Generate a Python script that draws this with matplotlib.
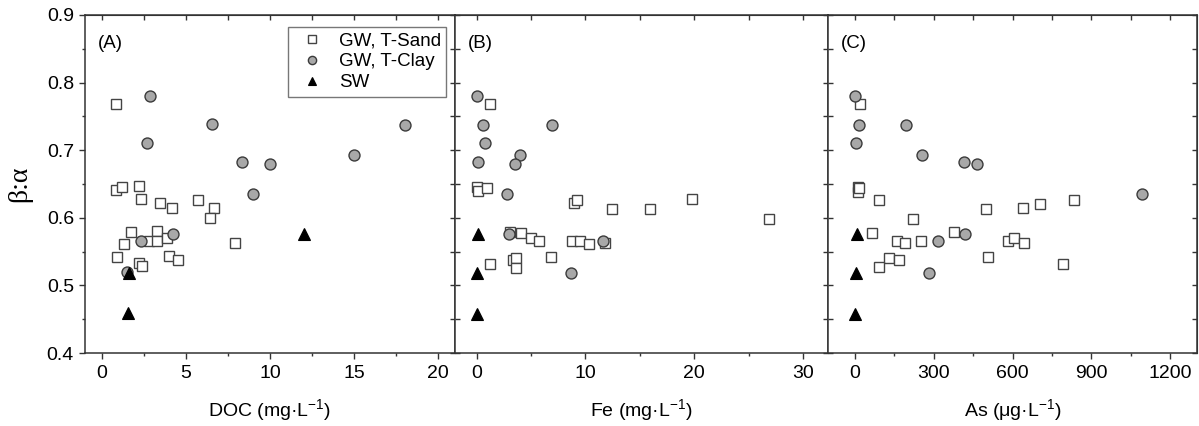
import matplotlib
matplotlib.use("Agg")
import matplotlib.pyplot as plt
from matplotlib.ticker import MultipleLocator, FormatStrFormatter

plt.rcParams["font.family"] = ["Liberation Sans", "DejaVu Sans"]
plt.rcParams["mathtext.fontset"] = "custom"
plt.rcParams["mathtext.rm"] = "Liberation Sans"
plt.rcParams["mathtext.it"] = "Liberation Sans:italic"

# ── Data ──────────────────────────────────────────────────────────────────────
# Panel A: DOC (mg/L)
sand_doc = [0.87, 0.84, 1.2, 2.23, 2.31, 3.43, 4.18, 5.7, 6.69, 6.41, 1.71,
            1.31, 0.91, 2.19, 2.39, 2.79, 3.31, 3.31, 3.87, 3.98, 4.52, 7.89]
sand_doc_ratio = [0.768, 0.641, 0.645, 0.647, 0.628, 0.622, 0.614, 0.627, 0.614,
                  0.599, 0.579, 0.561, 0.542, 0.533, 0.528, 0.566, 0.580, 0.566,
                  0.570, 0.543, 0.538, 0.562]
clay_doc = [2.89, 2.71, 6.53, 8.31, 10.0, 9.0, 15.0, 18.0, 2.31, 4.22, 1.47]
clay_doc_ratio = [0.780, 0.711, 0.739, 0.682, 0.679, 0.635, 0.693, 0.737,
                  0.565, 0.576, 0.520]
sw_doc = [1.63, 1.53, 12.03]
sw_doc_ratio = [0.518, 0.459, 0.576]

# Panel B: Fe (mg/L)
sand_fe = [1.2, 0.04, 0.1, 0.9, 8.9, 9.2, 12.4, 15.9, 19.8, 26.9, 3.02, 4.1,
           4.96, 5.7, 8.77, 9.48, 10.34, 11.8, 1.2, 3.3, 3.64, 3.64, 6.8]
sand_fe_ratio = [0.768, 0.646, 0.639, 0.644, 0.622, 0.627, 0.613, 0.613, 0.628,
                 0.598, 0.579, 0.578, 0.570, 0.565, 0.565, 0.566, 0.561, 0.562,
                 0.532, 0.537, 0.540, 0.526, 0.542]
clay_fe = [0.03, 0.59, 0.8, 0.16, 6.9, 4.0, 3.51, 2.77, 2.93, 8.68, 11.58]
clay_fe_ratio = [0.780, 0.738, 0.711, 0.682, 0.737, 0.693, 0.679, 0.635,
                 0.576, 0.519, 0.565]
sw_fe = [0.16, 0.04, 0.04]
sw_fe_ratio = [0.576, 0.518, 0.458]

# Panel C: As (ug/L)
sand_as = [19, 13, 10, 15, 91, 500, 641, 705, 835, 220, 63, 159, 190, 251, 378,
           582, 604, 643, 505, 790, 131, 168, 91]
sand_as_ratio = [0.768, 0.646, 0.638, 0.644, 0.627, 0.613, 0.614, 0.621, 0.626,
                 0.598, 0.578, 0.566, 0.562, 0.565, 0.579, 0.565, 0.570, 0.562,
                 0.542, 0.532, 0.540, 0.537, 0.527]
clay_as = [1, 16, 5, 194, 255, 414, 463, 1093, 317, 418, 282]
clay_as_ratio = [0.780, 0.738, 0.711, 0.737, 0.693, 0.682, 0.679, 0.635,
                 0.565, 0.576, 0.519]
sw_as = [8, 3, 1]
sw_as_ratio = [0.576, 0.518, 0.458]

panel_labels = ["(A)", "(B)", "(C)"]
x_labels = ["DOC (mg·L$^{-1}$)", "Fe (mg·L$^{-1}$)", "As (μg·L$^{-1}$)"]
legend_labels = ["GW, T-Sand", "GW, T-Clay", "SW"]

panels = [
    (sand_doc, sand_doc_ratio, clay_doc, clay_doc_ratio, sw_doc, sw_doc_ratio),
    (sand_fe, sand_fe_ratio, clay_fe, clay_fe_ratio, sw_fe, sw_fe_ratio),
    (sand_as, sand_as_ratio, clay_as, clay_as_ratio, sw_as, sw_as_ratio),
]
xlims = [(-1, 21), (-2, 32.3), (-103, 1302)]
x_major = [5, 10, 300]
x_minor = [2.5, 5, 150]

# ── Figure ────────────────────────────────────────────────────────────────────
W, H = 1199, 426
fig = plt.figure(figsize=(W / 100, H / 100), dpi=100)
edges = [85, 455, 828, 1197]
bottom, top = 353, 15

spine_col = "#333333"
axes = []
for i in range(3):
    ax = fig.add_axes([edges[i] / W, (H - bottom) / H,
                       (edges[i + 1] - edges[i]) / W, (bottom - top) / H])
    axes.append(ax)
    sx, sy, cx, cy, wx, wy = panels[i]
    ax.plot(sx, sy, ls="none", marker="s", ms=7.0, mfc="white", mec="#444444",
            mew=1.0, label=legend_labels[0], zorder=3)
    ax.plot(cx, cy, ls="none", marker="o", ms=7.9, mfc="#a8a8a8", mec="#3a3a3a",
            mew=1.0, label=legend_labels[1], zorder=4)
    ax.plot(wx, wy, ls="none", marker="^", ms=8.5, mfc="black", mec="black",
            mew=0.8, label=legend_labels[2], zorder=5)

    ax.set_xlim(*xlims[i])
    ax.set_ylim(0.4, 0.9)
    ax.xaxis.set_major_locator(MultipleLocator(x_major[i]))
    ax.xaxis.set_minor_locator(MultipleLocator(x_minor[i]))
    ax.yaxis.set_major_locator(MultipleLocator(0.1))
    ax.yaxis.set_minor_locator(MultipleLocator(0.05))

    for s in ax.spines.values():
        s.set_color(spine_col)
        s.set_linewidth(1.1)

    ax.tick_params(axis="x", which="major", direction="out", length=4.5,
                   width=1, color=spine_col, labelsize=14, pad=4)
    ax.tick_params(axis="x", which="minor", direction="out", length=2.5,
                   width=1, color=spine_col)
    if i == 0:
        ax.tick_params(axis="y", which="major", direction="out", length=4.5,
                       width=1, color=spine_col, labelsize=14)
        ax.tick_params(axis="y", which="minor", direction="out", length=2.5,
                       width=1, color=spine_col)
        ax.yaxis.set_major_formatter(FormatStrFormatter("%.1f"))
    else:
        ax.tick_params(axis="y", which="both", direction="in", length=3.5,
                       width=1, color=spine_col, labelleft=False)

    # top and right ticks point inward
    sec_x = ax.secondary_xaxis("top")
    sec_x.xaxis.set_major_locator(MultipleLocator(x_minor[i]))
    sec_x.tick_params(direction="in", length=3.5, width=1, color=spine_col,
                      labeltop=False)
    sec_x.spines["top"].set_color(spine_col)
    sec_y = ax.secondary_yaxis("right")
    sec_y.yaxis.set_major_locator(MultipleLocator(0.05))
    sec_y.tick_params(direction="in", length=3.5, width=1, color=spine_col,
                      labelright=False)
    sec_y.spines["right"].set_color(spine_col)

    ax.set_xlabel(x_labels[i], fontsize=14, labelpad=11)
    ax.text(0.035, 0.915, panel_labels[i], transform=ax.transAxes, fontsize=13.5,
            va="center", ha="left")

axes[0].set_ylabel("β:α", family=["Liberation Serif", "DejaVu Serif"],
                   fontsize=20, labelpad=10)

leg = axes[0].legend(loc="upper right", bbox_to_anchor=(0.977, 0.965),
                     fontsize=13.5, markerscale=0.75, frameon=True,
                     fancybox=False, edgecolor="#555555", handletextpad=0.4,
                     borderpad=0.3, labelspacing=0.2, handlelength=2.0,
                     borderaxespad=0)
leg.get_frame().set_linewidth(1.0)

fig.savefig("out.png", dpi=100, facecolor="white")
